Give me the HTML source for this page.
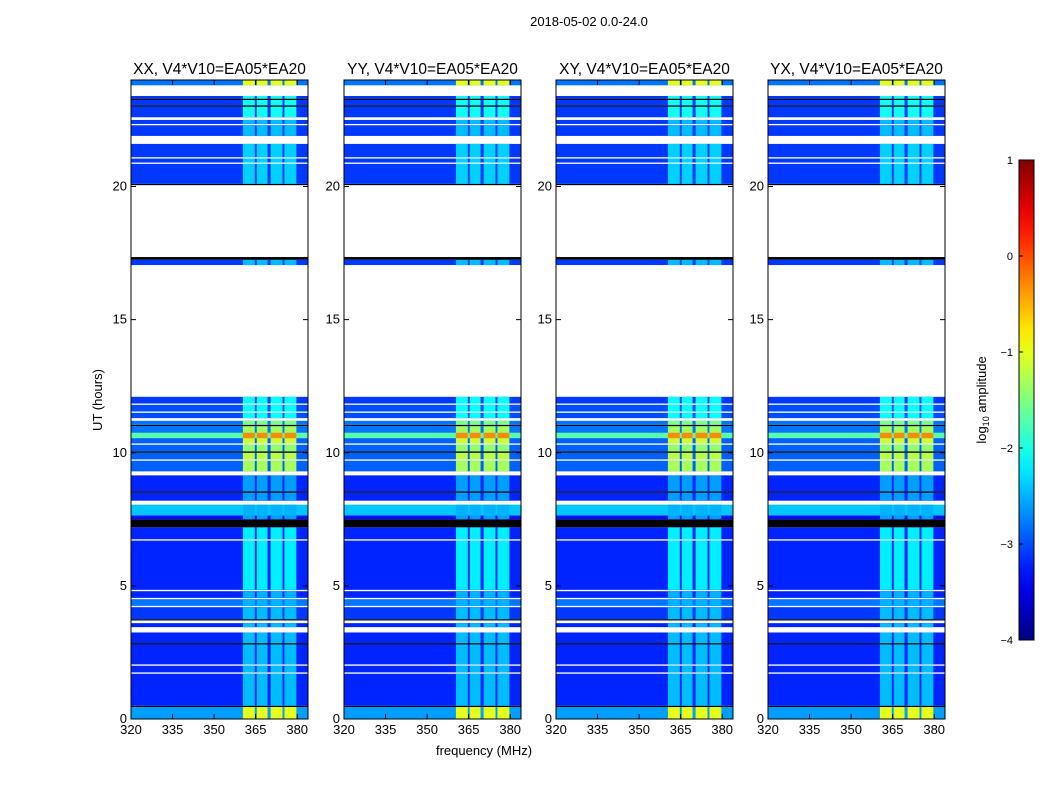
<!DOCTYPE html>
<html><head><meta charset="utf-8"><style>
body{margin:0;background:#fff;font-family:"Liberation Sans",sans-serif;}
svg text{font-family:"Liberation Sans",sans-serif;}
</style></head><body>
<svg id="s" width="1050" height="800" xmlns="http://www.w3.org/2000/svg">
<defs><linearGradient id="jet" x1="0" y1="1" x2="0" y2="0"></linearGradient></defs>
<text x="589" y="26" font-size="13" text-anchor="middle">2018-05-02 0.0-24.0</text>
<text x="484" y="755" font-size="13" text-anchor="middle">frequency (MHz)</text>
<text transform="translate(102,400) rotate(-90)" font-size="13" text-anchor="middle">UT (hours)</text>
<g id="panels"></g>
<g id="cbar"></g>
</svg>
<script>
// Data
const panelTitles=["XX, V4*V10=EA05*EA20","YY, V4*V10=EA05*EA20","XY, V4*V10=EA05*EA20","YX, V4*V10=EA05*EA20"];
const panelLeft=[131,344,556,768];
const yTicks=[0,5,10,15,20];
const xTicks=[320,335,350,365,380];
const cbTicks=[1,0,-1,-2,-3,-4];
// strong channel groups (MHz)
const colStart=[360.4,365.4,370.4,375.4];
const colEnd=[364.7,369.3,374.7,379.7];
// time bands: start hour, end hour, base log-amplitude ('w' blank, 'k' black), column log-amplitude
const rowStart=[0,0.45,0.5,1.7,1.75,2.0,2.05,2.8,2.85,3.25,3.45,3.6,3.7,3.75,4.2,4.25,4.5,4.55,4.8,4.85,6.7,6.75,7.2,7.5,7.65,8.05,8.2,8.5,8.55,9.15,9.3,9.7,9.75,10.0,10.05,10.3,10.35,10.55,10.75,11.0,11.05,11.2,11.3,11.5,11.55,11.8,11.85,12.1,17.05,17.25,17.35,20.05,20.1,20.85,20.9,21.05,21.1,21.6,21.9,22.3,22.35,22.5,22.6,23.0,23.05,23.25,23.3,23.4,23.8];
const rowEnd=[0.45,0.5,1.7,1.75,2.0,2.05,2.8,2.85,3.25,3.45,3.6,3.7,3.75,4.2,4.25,4.5,4.55,4.8,4.85,6.7,6.75,7.2,7.5,7.65,8.05,8.2,8.5,8.55,9.15,9.3,9.7,9.75,10.0,10.05,10.3,10.35,10.55,10.75,11.0,11.05,11.2,11.3,11.5,11.55,11.8,11.85,12.1,17.05,17.25,17.35,20.05,20.1,20.85,20.9,21.05,21.1,21.6,21.9,22.3,22.35,22.5,22.6,23.0,23.05,23.25,23.3,23.4,23.8,24.0];
const rowBase=[-2.6,'k',-3.2,'w',-3.2,'w',-3.2,'k',-3.2,'w',-3.2,'w','k',-3.1,'w',-2.8,'w',-3.2,'w',-3.2,'w',-3.2,'k',-3.3,-2.4,'w',-3.2,'k',-3.2,'w',-2.9,'w',-2.9,'k',-2.9,'w',-2.9,-1.7,-2.8,'k',-2.8,'w',-3.0,'w',-3.0,'w',-3.1,'w',-3.1,'k','w','k',-3.1,'w',-3.1,'w',-3.1,'w',-3.1,'w',-3.1,'w',-3.1,'k',-3.1,'k',-3.1,'w',-2.8];
const rowCol=[-1.0,null,-2.45,null,-2.45,null,-2.45,null,-2.45,null,-2.45,null,null,-2.45,null,-2.5,null,-2.5,null,-2.2,null,-2.2,null,-2.6,-2.5,null,-2.6,null,-2.6,null,-1.3,null,-1.2,null,-1.4,null,-1.1,-0.3,-1.3,null,-1.5,null,-2.1,null,-2.1,null,-2.1,null,-2.45,null,null,null,-2.35,null,-2.35,null,-2.35,null,-2.45,null,-2.45,null,-2.05,null,-2.05,null,-2.05,null,-1.0];

const NS='http://www.w3.org/2000/svg';
const svg=document.getElementById('s');
const X0=320,PX_PER_MHZ=2.77,PW=177,TOP=80,BOT=719,HMAX=24;
function xs(f,left){return left+(f-X0)*PX_PER_MHZ;}
function ys(h){return BOT-(h/HMAX)*(BOT-TOP);}
function cl(v){return Math.max(0,Math.min(1,v));}
function jet(v){const t=cl((v+4)/5);const r=cl(1.5-Math.abs(4*t-3)),g=cl(1.5-Math.abs(4*t-2)),b=cl(1.5-Math.abs(4*t-1));return `rgb(${Math.round(r*255)},${Math.round(g*255)},${Math.round(b*255)})`;}
function mk(tag,attrs,parent){const e=document.createElementNS(NS,tag);for(const k in attrs)e.setAttribute(k,attrs[k]);parent.appendChild(e);return e;}
const pg=document.getElementById('panels');
panelTitles.forEach((title,p)=>{
  const L=panelLeft[p];
  const g=mk('g',{},pg);
  
  
  for(let i=0;i<rowStart.length;i++){
    const y1=ys(rowEnd[i]),y0=ys(rowStart[i]);
    const b=rowBase[i];
    if(b==='w')continue;
    const fill=b==='k'?'#000':jet(b);
    const r=mk('rect',{x:L,y:y1,width:PW,height:Math.max(0.8,y0-y1),fill:fill},g);
    
    
    if(rowCol[i]!==null){
      for(let c=0;c<colStart.length;c++){
        const cx=xs(colStart[c],L),cw=xs(colEnd[c],L)-cx;
        const cr=mk('rect',{x:cx,y:y1,width:cw,height:Math.max(0.8,y0-y1),fill:jet(rowCol[i])},g);
        
        
      }
    }
  }
  const fr=mk('rect',{x:L,y:TOP,width:PW,height:BOT-TOP,fill:'none',stroke:'#000','stroke-width':1},g);
  
  
  const tt=mk('text',{x:L+PW/2,y:74,'font-size':15.5,'text-anchor':'middle'},g);
  tt.textContent=title;
  
  
  yTicks.forEach(v=>{
    const y=ys(v);
    mk('line',{x1:L,x2:L+5,y1:y,y2:y,stroke:'#000'},g);
    mk('line',{x1:L+PW-5,x2:L+PW,y1:y,y2:y,stroke:'#000'},g);
    const t=mk('text',{x:L-4,y:y+4,'font-size':13,'text-anchor':'end'},g);
    t.textContent=v;
    
    
  });
  xTicks.forEach(v=>{
    const x=xs(v,L);
    mk('line',{x1:x,x2:x,y1:BOT,y2:BOT-5,stroke:'#000'},g);
    mk('line',{x1:x,x2:x,y1:TOP,y2:TOP+5,stroke:'#000'},g);
    const t=mk('text',{x:x,y:BOT+15,'font-size':13,'text-anchor':'middle'},g);
    t.textContent=v;
    
    
  });
});
// colorbar
const grad=document.getElementById('jet');
for(let i=0;i<=20;i++){mk('stop',{offset:(i/20),'stop-color':jet(-4+5*i/20)},grad);}
const cb=document.getElementById('cbar');
const CT=160,CB=640;
const cbr=mk('rect',{x:1019,y:CT,width:15,height:CB-CT,fill:'url(#jet)',stroke:'#000'},cb);


cbTicks.forEach(v=>{
  const y=CB-(v+4)/5*(CB-CT);
  mk('line',{x1:1019,x2:1023,y1:y,y2:y,stroke:'#000'},cb);
  const t=mk('text',{x:1013,y:y+4,'font-size':11,'text-anchor':'end'},cb);
  t.textContent=v<0?'\u2212'+(-v):v;
  
  
});
const cl2=mk('text',{transform:'translate(986,400) rotate(-90)','font-size':13,'text-anchor':'middle'},cb);
cl2.innerHTML='log<tspan font-size="9" dy="3">10</tspan><tspan dy="-3"> amplitude</tspan>';


</script>
</body></html>
